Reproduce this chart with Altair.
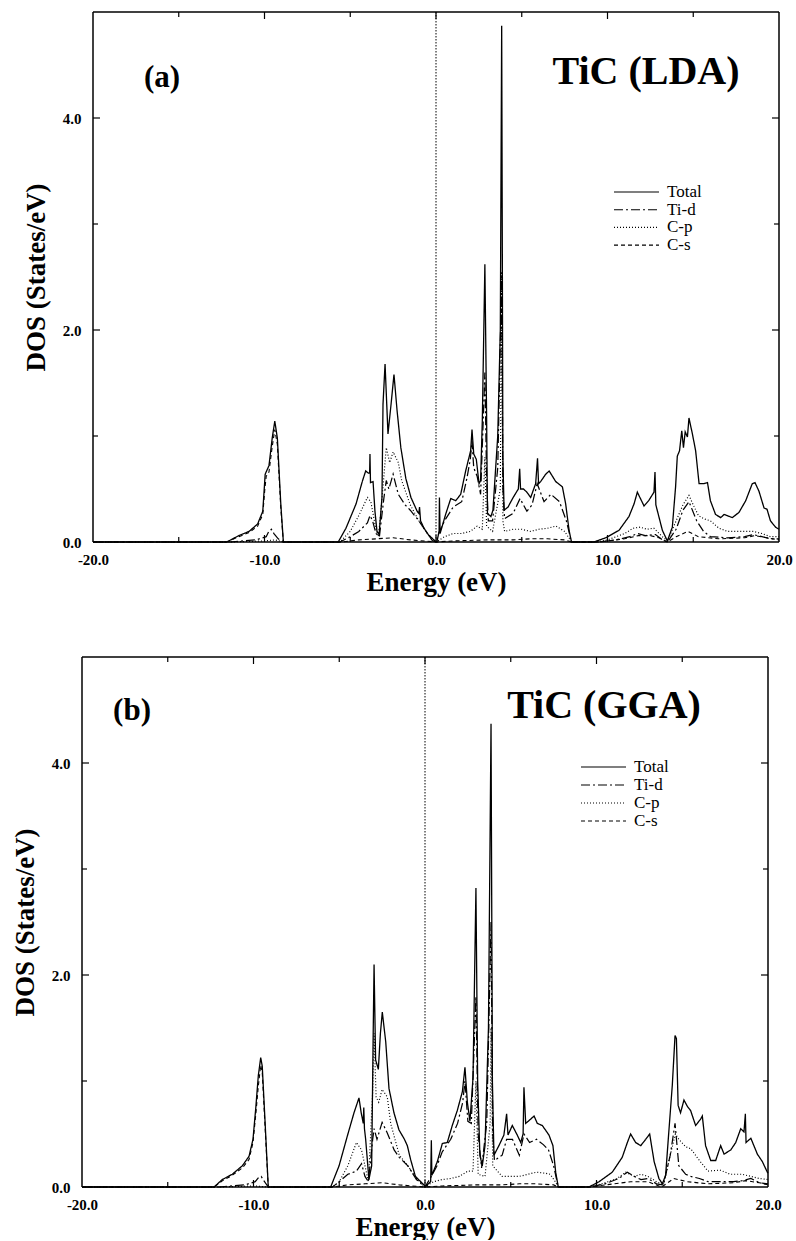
import altair as alt
import pandas as pd

# ---------------- data ----------------
SERIES = ["Total", "Ti-d", "C-p", "C-s"]

X_LABELS = [-20, -10, 0, 10, 20]
X_TICKS_MAJOR = [-10, 0, 10]
X_TICKS_MINOR = [-15, -5, 5, 15]
Y_LABELS = [0, 2, 4]
Y_TICKS_MAJOR = [2, 4]
Y_TICKS_MINOR = [1, 3]

# ---- (a) LDA ----
LDA_TOTAL_E = [-20, -12.2, -11.5, -10.9, -10.4, -10.1, -9.96, -9.74, -9.55, -9.4, -9.25, -9.05, -8.9,
               -5.7, -5.25, -4.66, -4.3, -4.1, -3.95, -3.87, -3.85, -3.82, -3.67, -3.56, -3.44, -3.32, -3.15,
               -3.09, -2.97, -2.8, -2.62, -2.45, -2.27, -2.05, -1.76, -1.46, -1.1, -1.0, -0.96, -0.9, -0.7,
               -0.2, 0.05,
               0.18, 0.2, 0.24, 0.56, 0.86, 1.15, 1.44, 1.73, 2.02, 2.1, 2.2, 2.35, 2.51, 2.6, 2.7, 2.85,
               2.95, 3.0, 3.2, 3.32, 3.6, 3.75, 3.83, 3.9, 3.97, 4.2, 4.5, 4.8, 4.88, 4.93, 5.1, 5.3, 5.52,
               5.81, 5.92, 5.98, 6.1, 6.4, 6.6, 6.98, 7.37, 7.56, 7.76, 7.9,
               9.2, 9.9, 10.67, 11.25, 11.55, 11.74, 12.13, 12.4, 12.71, 12.77, 12.82, 13.2, 13.49, 13.78,
               13.97, 14.07, 14.2, 14.33, 14.43, 14.53, 14.66, 14.75, 14.95, 15.14, 15.34, 15.63, 15.83,
               16.0, 16.3, 16.6, 16.8, 17.28, 17.67, 18.06, 18.44, 18.6, 18.83, 19.13, 19.3, 19.5, 19.8, 20]
LDA_TOTAL_D = [0, 0, 0.06, 0.10, 0.17, 0.29, 0.64, 0.72, 0.98, 1.14, 0.98, 0.36, 0,
               0, 0.13, 0.36, 0.57, 0.67, 0.65, 0.65, 0.83, 0.56, 0.57, 0.29, 0.10, 0.07, 0.42,
               1.3, 1.68, 1.02, 1.3, 1.58, 1.24, 0.89, 0.60, 0.42, 0.29, 0.27, 0.33, 0.2, 0.13,
               0.01, 0,
               0.1, 0.42, 0.08, 0.26, 0.41, 0.39, 0.45, 0.67, 0.86, 1.06, 0.83, 0.78, 0.55, 0.58, 1.14, 2.62,
               1.2, 0.27, 0.24, 0.3, 1.0, 2.0, 4.87, 0.8, 0.3, 0.33, 0.42, 0.5, 0.69, 0.5, 0.5, 0.47, 0.42,
               0.55, 0.79, 0.55, 0.57, 0.64, 0.67, 0.57, 0.52, 0.36, 0.11, 0,
               0, 0.04, 0.11, 0.24, 0.36, 0.47, 0.34, 0.39, 0.47, 0.66, 0.35, 0.11, 0.01, 0.14,
               0.52, 0.81, 0.86, 1.05, 0.89, 1.04, 0.99, 1.17, 1.02, 0.86, 0.55, 0.55, 0.56,
               0.39, 0.26, 0.23, 0.26, 0.23, 0.28, 0.39, 0.55, 0.56, 0.48, 0.32, 0.31, 0.2, 0.14, 0.12]

LDA_TID_E = [-20, -12.0, -10.5, -9.9, -9.75, -9.6, -9.45, -9.2, -8.9,
             -5.6, -5.0, -4.5, -4.0, -3.85, -3.7, -3.5, -3.3, -3.05, -2.9, -2.75, -2.5, -2.2, -1.8, -1.5,
             -1.0, -0.5, 0.0,
             0.2, 0.5, 1.0, 1.5, 1.8, 2.0, 2.1, 2.2, 2.4, 2.6, 2.7, 2.85, 2.95, 3.05, 3.3, 3.6, 3.83, 3.9,
             4.0, 4.5, 4.9, 5.3, 5.6, 5.9, 6.3, 6.7, 7.2, 7.6, 7.9,
             9.5, 10.5, 11.3, 11.75, 12.2, 12.8, 13.2, 13.5, 14.0, 14.4, 14.75, 15.2, 15.6, 16.0, 17.0,
             18.0, 18.5, 19.0, 19.5, 20]
LDA_TID_D = [0, 0, 0.02, 0.05, 0.1, 0.12, 0.08, 0.03, 0,
             0, 0.05, 0.1, 0.18, 0.25, 0.2, 0.08, 0.05, 0.4, 0.58, 0.5, 0.64, 0.45, 0.35, 0.3,
             0.2, 0.08, 0,
             0.1, 0.2, 0.33, 0.38, 0.6, 0.78, 0.95, 0.7, 0.62, 0.45, 0.9, 1.6, 0.6, 0.2, 0.2, 0.7, 2.5, 0.5,
             0.22, 0.27, 0.41, 0.29, 0.35, 0.55, 0.38, 0.45, 0.38, 0.2, 0,
             0, 0.02, 0.05, 0.08, 0.06, 0.07, 0.02, 0.0, 0.12, 0.3, 0.38, 0.2, 0.1, 0.05, 0.04,
             0.05, 0.07, 0.05, 0.03, 0.03]

LDA_CP_E = [-20, -12.0, -10.0, -9.4, -8.9,
            -5.6, -5.0, -4.5, -4.0, -3.8, -3.5, -3.35, -3.1, -2.9, -2.7, -2.5, -2.2, -2.0, -1.5, -1.0,
            -0.5, 0.0,
            0.5, 1.0, 1.5, 2.0, 2.4, 2.7, 2.85, 2.95, 3.3, 3.75, 3.83, 3.9, 4.0, 4.5, 5.0, 5.5, 6.0, 6.5,
            7.0, 7.5, 7.9,
            9.3, 10.0, 10.5, 11.0, 11.5, 11.9, 12.3, 12.7, 13.2, 13.5, 14.0, 14.4, 14.75, 15.0, 15.3,
            15.6, 16.0, 16.5, 17.0, 17.5, 18.0, 18.5, 19.0, 19.5, 20]
LDA_CP_D = [0, 0, 0.01, 0.02, 0,
            0, 0.1, 0.25, 0.42, 0.38, 0.12, 0.05, 0.5, 0.89, 0.75, 0.85, 0.75, 0.58, 0.35, 0.2,
            0.08, 0,
            0.05, 0.08, 0.08, 0.1, 0.15, 0.12, 0.8, 0.15, 0.1, 0.5, 2.55, 0.2, 0.1, 0.12, 0.12, 0.1, 0.12, 0.13,
            0.15, 0.1, 0,
            0, 0.02, 0.05, 0.08, 0.13, 0.14, 0.12, 0.13, 0.05, 0.01, 0.2, 0.35, 0.44, 0.35, 0.25,
            0.22, 0.2, 0.13, 0.1, 0.1, 0.1, 0.1, 0.08, 0.05, 0.05]

LDA_CS_E = [-20, -12.2, -11.5, -10.9, -10.4, -10.1, -9.98, -9.9, -9.74, -9.55, -9.4, -9.25, -9.05, -8.9,
            -5.5, -4.5, -3.5, -2.5, -1.5, 0,
            1.0, 3.0, 4.5, 5.5, 6.5, 7.5, 7.9,
            9.5, 11.0, 11.8, 12.5, 13.0, 13.5, 14.0, 14.7, 15.3, 16.5, 18.0, 18.6, 19.3, 20]
LDA_CS_D = [0, 0, 0.05, 0.09, 0.15, 0.26, 0.5, 0.62, 0.66, 0.9, 1.06, 0.92, 0.32, 0,
            0, 0.02, 0.03, 0.04, 0.02, 0,
            0.01, 0.02, 0.02, 0.03, 0.03, 0.02, 0,
            0, 0.03, 0.06, 0.06, 0.04, 0, 0.05, 0.1, 0.05, 0.03, 0.04, 0.06, 0.04, 0.02]

# ---- (b) GGA ----
GGA_TOTAL_E = [-20, -12.3, -11.82, -11.24, -10.65, -10.26, -10.03, -9.87, -9.72, -9.58, -9.49, -9.33, -9.14,
               -5.5, -5.01, -4.53, -4.14, -3.85, -3.72, -3.6, -3.57, -3.53, -3.46, -3.27, -3.11, -3.03,
               -2.97, -2.88, -2.72, -2.6, -2.49, -2.29, -2.1, -1.81, -1.52, -1.2, -1.03, -0.84, -0.56,
               -0.06, 0.0,
               0.33, 0.37, 0.40, 0.72, 1.01, 1.3, 1.59, 1.88, 2.18, 2.33, 2.47, 2.62, 2.8, 2.97, 3.07, 3.2,
               3.34, 3.5, 3.7, 3.85, 3.93, 4.02, 4.31, 4.6, 4.76, 4.84, 5.09, 5.38, 5.58, 5.72, 5.77, 5.87,
               6.16, 6.36, 6.55, 6.84, 7.23, 7.46, 7.62, 7.77,
               9.56, 10.15, 10.92, 11.5, 11.8, 11.99, 12.28, 12.58, 12.87, 13.1, 13.36, 13.64, 13.84,
               14.03, 14.23, 14.42, 14.58, 14.66, 14.76, 14.9, 15.1, 15.3, 15.49, 15.78, 16.07, 16.17,
               16.36, 16.66, 16.95, 17.24, 17.44, 17.83, 18.12, 18.41, 18.6, 18.68, 18.72, 19.0, 19.38,
               19.67, 19.96, 20]
GGA_TOTAL_D = [0, 0, 0.07, 0.12, 0.2, 0.29, 0.45, 0.74, 1.05, 1.22, 1.14, 0.63, 0,
               0, 0.2, 0.48, 0.7, 0.84, 0.7, 0.6, 0.75, 0.55, 0.45, 0.07, 0.2, 1.33,
               2.1, 1.2, 1.11, 1.45, 1.65, 1.37, 0.93, 0.70, 0.54, 0.45, 0.39, 0.26, 0.1,
               0.02, 0,
               0.05, 0.44, 0.11, 0.24, 0.41, 0.42, 0.58, 0.72, 0.9, 1.13, 0.8, 0.62, 1.03, 2.82, 1.0, 0.3,
               0.2, 0.39, 1.5, 4.37, 1.0, 0.30, 0.39, 0.49, 0.69, 0.49, 0.58, 0.49, 0.42, 0.5, 0.94, 0.6,
               0.64, 0.67, 0.6, 0.58, 0.49, 0.39, 0.14, 0,
               0, 0.05, 0.14, 0.28, 0.42, 0.5, 0.42, 0.39, 0.45, 0.5, 0.24, 0.08, 0.03,
               0.11, 0.55, 0.96, 1.43, 1.4, 0.77, 0.7, 0.82, 0.76, 0.72, 0.58, 0.64, 0.67,
               0.39, 0.25, 0.25, 0.39, 0.31, 0.35, 0.42, 0.55, 0.52, 0.69, 0.42, 0.46, 0.31,
               0.24, 0.14, 0.13]

GGA_TID_E = [-20, -12.0, -10.5, -9.9, -9.7, -9.55, -9.4, -9.14,
             -5.4, -5.0, -4.5, -4.0, -3.7, -3.5, -3.3, -3.05, -2.97, -2.8, -2.5, -2.2, -1.8, -1.5, -1.0,
             -0.5, 0.0,
             0.37, 0.7, 1.0, 1.5, 1.9, 2.2, 2.33, 2.5, 2.7, 2.97, 3.1, 3.3, 3.6, 3.85, 3.95, 4.05, 4.5,
             4.76, 5.1, 5.5, 5.77, 6.1, 6.5, 6.9, 7.2, 7.5, 7.77,
             9.6, 10.5, 11.3, 11.8, 12.2, 12.6, 13.0, 13.5, 13.9, 14.3, 14.58, 14.8, 15.2, 15.5, 16.0,
             16.5, 17.5, 18.0, 18.5, 19.0, 19.5, 20]
GGA_TID_D = [0, 0, 0.02, 0.05, 0.09, 0.1, 0.06, 0,
             0, 0.05, 0.12, 0.15, 0.22, 0.1, 0.05, 0.45, 0.55, 0.45, 0.61, 0.51, 0.35, 0.28, 0.2,
             0.07, 0,
             0.1, 0.2, 0.33, 0.45, 0.6, 0.8, 1.0, 0.62, 0.6, 1.8, 0.5, 0.18, 0.6, 2.5, 0.5, 0.25, 0.3,
             0.45, 0.45, 0.3, 0.5, 0.42, 0.45, 0.4, 0.35, 0.2, 0,
             0, 0.03, 0.08, 0.14, 0.1, 0.07, 0.08, 0.03, 0.02, 0.3, 0.6, 0.2, 0.12, 0.1, 0.08,
             0.05, 0.05, 0.05, 0.06, 0.08, 0.04, 0.03]

GGA_CP_E = [-20, -12.0, -10.0, -9.14,
            -5.4, -5.0, -4.5, -4.0, -3.7, -3.5, -3.3, -3.05, -2.97, -2.85, -2.7, -2.5, -2.2, -2.0, -1.5,
            -1.0, -0.5, 0.0,
            0.5, 1.0, 1.5, 2.0, 2.5, 2.8, 2.97, 3.1, 3.5, 3.8, 3.85, 3.95, 4.5, 5.0, 5.5, 6.0, 6.5, 7.0,
            7.3, 7.6, 7.77,
            9.6, 10.5, 11.2, 11.7, 12.2, 12.6, 13.0, 13.5, 13.9, 14.3, 14.6, 14.8, 15.2, 15.5, 16.0,
            16.5, 17.2, 17.8, 18.5, 19.0, 19.5, 20]
GGA_CP_D = [0, 0, 0.01, 0,
            0, 0.05, 0.2, 0.42, 0.35, 0.2, 0.05, 0.9, 1.45, 0.85, 0.8, 0.92, 0.85, 0.6, 0.3,
            0.2, 0.08, 0,
            0.05, 0.07, 0.08, 0.1, 0.15, 0.15, 1.0, 0.12, 0.1, 0.6, 1.5, 0.2, 0.1, 0.1, 0.1, 0.12, 0.14, 0.13,
            0.12, 0.05, 0,
            0, 0.04, 0.08, 0.14, 0.1, 0.12, 0.1, 0.05, 0.02, 0.3, 0.5, 0.45, 0.38, 0.36, 0.25,
            0.15, 0.16, 0.12, 0.12, 0.1, 0.08, 0.07]

GGA_CS_E = [-20, -12.3, -11.8, -11.24, -10.65, -10.26, -10.03, -9.87, -9.72, -9.58, -9.49, -9.33, -9.14,
            -5.4, -4.5, -3.5, -2.5, -1.5, 0,
            1.0, 3.0, 4.5, 5.5, 6.5, 7.5, 7.77,
            9.6, 11.0, 12.0, 13.0, 13.8, 14.5, 15.3, 16.5, 18.0, 18.7, 19.5, 20]
GGA_CS_D = [0, 0, 0.06, 0.11, 0.18, 0.26, 0.42, 0.68, 0.95, 1.15, 1.08, 0.58, 0,
            0, 0.02, 0.03, 0.04, 0.02, 0,
            0.01, 0.02, 0.02, 0.03, 0.03, 0.02, 0,
            0, 0.03, 0.05, 0.05, 0, 0.08, 0.05, 0.03, 0.04, 0.06, 0.04, 0.02]

# ---------------- styling ----------------
W, H = 686, 530
FONT = "Liberation Serif"
DASHES = [[1, 0], [9, 3, 2, 3], [1, 2], [4, 3]]
WIDTHS = [1.3, 1.1, 1.1, 1.1]
ONE = pd.DataFrame({"k": [0]})
y_scale = alt.Scale(domain=[0, 5], nice=False, zero=False)


def long_df(items):
    rows = []
    for name, es, ds in items:
        for e, d in zip(es, ds):
            rows.append({"E": e, "D": d, "series": name})
    return pd.DataFrame(rows)


def frame_and_ticks(x0, x_scale):
    layers = []
    rs = dict(color="black", strokeWidth=1.5)
    # frame
    layers.append(alt.Chart(ONE).mark_rule(**rs).encode(x=alt.value(x0), y=alt.value(0), y2=alt.value(H)))
    layers.append(alt.Chart(ONE).mark_rule(**rs).encode(x=alt.value(x0 + W), y=alt.value(0), y2=alt.value(H)))
    layers.append(alt.Chart(ONE).mark_rule(**rs).encode(x=alt.value(x0), x2=alt.value(x0 + W), y=alt.value(0)))
    layers.append(alt.Chart(ONE).mark_rule(**rs).encode(x=alt.value(x0), x2=alt.value(x0 + W), y=alt.value(H)))
    # inward ticks
    for vals, ln in ((X_TICKS_MAJOR, 7), (X_TICKS_MINOR, 5)):
        d = pd.DataFrame({"E": vals})
        layers.append(alt.Chart(d).mark_rule(color="black", strokeWidth=1.2).encode(
            x=alt.X("E:Q", scale=x_scale), y=alt.value(H), y2=alt.value(H - ln)))
        layers.append(alt.Chart(d).mark_rule(color="black", strokeWidth=1.2).encode(
            x=alt.X("E:Q", scale=x_scale), y=alt.value(0), y2=alt.value(ln)))
    for vals, ln in ((Y_TICKS_MAJOR, 7), (Y_TICKS_MINOR, 5)):
        d = pd.DataFrame({"D": vals})
        layers.append(alt.Chart(d).mark_rule(color="black", strokeWidth=1.2).encode(
            y=alt.Y("D:Q", scale=y_scale), x=alt.value(x0), x2=alt.value(x0 + ln)))
        layers.append(alt.Chart(d).mark_rule(color="black", strokeWidth=1.2).encode(
            y=alt.Y("D:Q", scale=y_scale), x=alt.value(x0 + W), x2=alt.value(x0 + W - ln)))
    return layers


def panel(items, title, letter, title_xy, letter_xy, legend_xy, x0):
    x_scale = alt.Scale(domain=[-20, 20], nice=False, zero=False, range=[x0, x0 + W])
    df = long_df(items)
    lines = alt.Chart(df).mark_line(color="black").encode(
        x=alt.X("E:Q", scale=x_scale,
                axis=alt.Axis(values=X_LABELS, title="Energy (eV)",
                              labelExpr="replace(format(datum.value, '.1f'), '\u2212', '-')")),
        y=alt.Y("D:Q", scale=y_scale,
                axis=alt.Axis(values=Y_LABELS, format=".1f", title="DOS (States/eV)", offset=-x0)),
        strokeDash=alt.StrokeDash("series:N", scale=alt.Scale(domain=SERIES, range=DASHES), legend=None),
        strokeWidth=alt.StrokeWidth("series:N", scale=alt.Scale(domain=SERIES, range=WIDTHS), legend=None),
    )
    fermi = alt.Chart(ONE).mark_rule(color="black", strokeWidth=1, strokeDash=[1.5, 1.5]).encode(
        x=alt.datum(0))
    layers = [lines, fermi] + frame_and_ticks(x0, x_scale)
    lx, ly, dy = legend_xy
    lx += x0
    for i, (name, dash) in enumerate(zip(SERIES, DASHES)):
        layers.append(alt.Chart(ONE).mark_rule(color="black", strokeWidth=1.1, strokeDash=dash).encode(
            x=alt.value(lx), x2=alt.value(lx + 45), y=alt.value(ly + i * dy)))
        layers.append(alt.Chart(ONE).mark_text(font=FONT, fontSize=17, align="left", baseline="middle",
                                               color="black").encode(
            x=alt.value(lx + 53), y=alt.value(ly + i * dy), text=alt.value(name)))
    layers.append(alt.Chart(ONE).mark_text(font=FONT, fontSize=40, fontWeight="bold", align="center",
                                           baseline="middle", color="black").encode(
        x=alt.value(title_xy[0] + x0), y=alt.value(title_xy[1]), text=alt.value(title)))
    layers.append(alt.Chart(ONE).mark_text(font=FONT, fontSize=31, fontWeight="bold", align="center",
                                           baseline="middle", color="black").encode(
        x=alt.value(letter_xy[0] + x0), y=alt.value(letter_xy[1]), text=alt.value(letter)))
    # invisible extent mark so both panels start at the same left offset
    layers.append(alt.Chart(ONE).mark_rule(color="white", strokeWidth=1).encode(
        x=alt.value(-90), x2=alt.value(-89), y=alt.value(H / 2), y2=alt.value(H / 2 + 1)))
    return alt.layer(*layers).properties(width=W, height=H)


pa = panel([("Total", LDA_TOTAL_E, LDA_TOTAL_D), ("Ti-d", LDA_TID_E, LDA_TID_D),
            ("C-p", LDA_CP_E, LDA_CP_D), ("C-s", LDA_CS_E, LDA_CS_D)],
           "TiC (LDA)", "(a)", (553, 60), (69, 66), (521, 180, 17.7), 0)
pb = panel([("Total", GGA_TOTAL_E, GGA_TOTAL_D), ("Ti-d", GGA_TID_E, GGA_TID_D),
            ("C-p", GGA_CP_E, GGA_CP_D), ("C-s", GGA_CS_E, GGA_CS_D)],
           "TiC (GGA)", "(b)", (522, 49), (50, 54), (499, 110, 18), -11)

chart = alt.vconcat(pa, pb, spacing=61).properties(
    padding={"left": 2, "top": 11, "right": 0, "bottom": 0},
    background="white",
).configure_view(
    stroke=None
).configure_axis(
    domain=False, grid=False, ticks=False, tickSize=0,
    labelFont=FONT, labelFontSize=15, labelFontWeight="bold", labelColor="black",
    labelFlush=False, labelOverlap=False,
    titleFont=FONT, titleFontSize=27, titleFontWeight="bold", titleColor="black",
).configure_axisX(
    labelPadding=10, titlePadding=2,
).configure_axisY(
    labelPadding=12, titlePadding=12,
)

chart.save("out.html", embed_options={"renderer": "svg", "actions": False})
